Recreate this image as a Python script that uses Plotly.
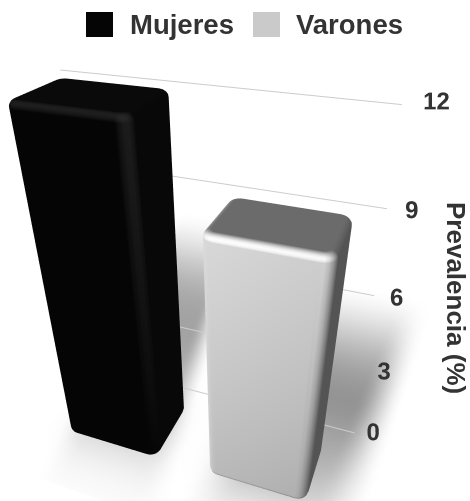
import numpy as np
import plotly.graph_objects as go

categories = ["Mujeres", "Varones"]
values = [12.1, 9.2]
tick_vals = [0, 3, 6, 9, 12]
label_dz = [-0.08, -0.15, -0.1, -0.05, 0.1]
axis_title = "Prevalencia (%)"

W, H = 470, 501
Z_SCALE = 0.0598  # scene height per % of prevalence
X_RANGE = [-0.9, 0.3]
Y_RANGE = [0.6, 2.0]
Z_RANGE = [-0.1, 13]
BAR_X = [(-0.652, -0.44), (-0.33, -0.128)]
BAR_Y = [(0.74, 0.895), (0.742, 0.89)]
BAR_TOP_SHIFT = [0.006, 0.012]
WALL_Y = 0.95
GRID_X = (-0.688, -0.072)
GRID_END = [-0.072, -0.16, -0.072, -0.072, -0.072]
EYE_WORLD = np.array([0, 0, 1.0])

STYLE = [
    dict(Lf=lambda t, u: 0.02, Lr=0.03, Ll=0.03, Lb=0.03, Ltop=0.04, hl=0.09, hlc=0.10, hlp=8, legend="#050505"),
    dict(Lf=lambda t, u: 0.68 + 0.12 * t + 0.05 * (1 - u), Lr=0.33, Ll=0.86, Lb=0.5, Ltop=0.42, hl=0.32, hlc=0.10, hlp=2, legend="#cacaca"),
]


def grey(L):
    c = int(round(float(np.clip(L, 0, 1)) * 255))
    return f"rgb({c},{c},{c})"


def bar_mesh(x_lim, y_lim, value, st, name, shift, r=0.022, rt=0.013):
    x0, x1 = x_lim
    y0, y1 = y_lim
    corners = [(x1 - r, y1 - r, 0), (x0 + r, y1 - r, 90), (x0 + r, y0 + r, 180), (x1 - r, y0 + r, 270)]
    ring = []
    for cx, cy, a0 in corners:
        for a in np.linspace(a0, a0 + 90, 6):
            ring.append((cx, cy, np.radians(a)))
    height = value * Z_SCALE
    profile = [(np.radians(p), rt + rt * np.sin(np.radians(p))) for p in (-90, -60, -30, 0)]
    profile += [(np.radians(p), height - rt + rt * np.sin(np.radians(p))) for p in (0, 15, 30, 45, 60, 75, 90)]
    xs, ys, zs, col = [], [], [], []
    for phi, z in profile:
        nh, nz = np.cos(phi), np.sin(phi)
        rad = r - rt * (1 - nh)
        t = z / height
        for cx, cy, th in ring:
            nx, ny = np.cos(th), np.sin(th)
            x, y = cx + rad * nx, cy + rad * ny
            u = (x - x0) / (x1 - x0)
            wf, wr, wl, wb = max(-ny, 0), max(nx, 0), max(-nx, 0), max(ny, 0)
            side = wf**2 * st["Lf"](t, u) + wr**2 * st["Lr"] + wl**2 * st["Ll"] + wb**2 * st["Lb"]
            side += st["hlc"] * 2 * wf * wr * t ** st["hlp"]
            L = side * nh**2 + st["Ltop"] * max(nz, 0) ** 2 + st["hl"] * 2 * nh * max(nz, 0) * wf
            xs.append(x + shift * u * t); ys.append(y); zs.append(z / Z_SCALE); col.append(grey(L))
    m = len(ring)
    i, j, k = [], [], []
    for a in range(len(profile) - 1):
        for b in range(m):
            p, q = a * m + b, a * m + (b + 1) % m
            i += [p, q]; j += [q, q + m]; k += [p + m, p + m]
    for level, zc, shade in ((len(profile) - 1, value, st["Ltop"]), (0, 0, st["Ltop"])):
        c = len(xs)
        xs.append((x0 + x1 + shift) / 2 if level else (x0 + x1) / 2); ys.append((y0 + y1) / 2); zs.append(zc); col.append(grey(shade))
        for b in range(m):
            i.append(c); j.append(level * m + b); k.append(level * m + (b + 1) % m)
    return go.Mesh3d(x=xs, y=ys, z=zs, i=i, j=j, k=k, vertexcolor=col, name=name, hoverinfo="skip", showlegend=False,
                     flatshading=False, lighting=dict(ambient=1, diffuse=0, specular=0, roughness=1, fresnel=0))


def smooth(v):
    v = np.clip(v, 0, 1)
    return v * v * (3 - 2 * v)


def soft(v, lo, hi, w):
    return smooth((v - lo + w) / (2 * w)) * smooth((hi - v + w) / (2 * w))


def floor_mesh():
    gx, gy = np.meshgrid(np.linspace(-0.9, 0.3, 120), np.linspace(0.62, 1.98, 120))
    d = np.zeros_like(gx)
    xc = -0.55 - 0.2 * (gy - 0.82)
    d += 0.36 * soft(gx - xc, -0.11, 0.11, 0.035) * soft(gy, 0.85, 1.5, 0.3)
    xc = -0.19 + 0.1 * (gy - 0.82)
    d += 0.42 * soft(gx - xc, -0.11, 0.13, 0.05) * soft(gy, 0.8, 1.28, 0.25)
    for (a, b), (c, e) in zip(BAR_X, BAR_Y):
        d += 0.06 * soft(gx, a, b, 0.07) * soft(gy, c, e, 0.07)
    L = 1 - np.clip(d, 0, 1)
    n = gx.shape[0]
    i, j, k = [], [], []
    for a in range(n - 1):
        for b in range(n - 1):
            p = a * n + b
            i += [p, p]; j += [p + 1, p + n + 1]; k += [p + n + 1, p + n]
    return go.Mesh3d(x=gx.ravel(), y=gy.ravel(), z=np.full(n * n, -0.03), i=i, j=j, k=k,
                     vertexcolor=[grey(v) for v in L.ravel()], hoverinfo="skip", showlegend=False,
                     lighting=dict(ambient=1, diffuse=0, specular=0, roughness=1, fresnel=0))


def toward_eye(x, y, z_val, k=0.85):
    """Same screen position, nearer the camera, so the floor cannot hide a label."""
    p = np.array([x, y, z_val * Z_SCALE])
    q = EYE_WORLD + k * (p - EYE_WORLD)
    return q[0], q[1], q[2] / Z_SCALE


fig = go.Figure()
fig.add_trace(floor_mesh())
for v, end in zip(tick_vals, GRID_END):
    fig.add_trace(go.Scatter3d(x=[GRID_X[0], end], y=[WALL_Y, WALL_Y], z=[v, v], mode="lines", showlegend=False,
                               line=dict(color="#cccccc", width=2), hoverinfo="skip"))
label_pts = [toward_eye(GRID_X[1] - 0.024 + 0.0018 * v, WALL_Y, v + dz) for v, dz in zip(tick_vals, label_dz)]
fig.add_trace(go.Scatter3d(x=[p[0] for p in label_pts], y=[p[1] for p in label_pts], z=[p[2] for p in label_pts],
                           mode="text", text=[str(v) for v in tick_vals], textposition="middle right",
                           textfont=dict(family="Liberation Sans", size=24, color="#333333", weight="bold"),
                           showlegend=False, hoverinfo="skip"))
for c, v, xl, yl, st, sh in zip(categories, values, BAR_X, BAR_Y, STYLE, BAR_TOP_SHIFT):
    fig.add_trace(bar_mesh(xl, yl, v, st, c, sh))

box_c = np.array([sum(X_RANGE) / 2, sum(Y_RANGE) / 2, sum(Z_RANGE) / 2 * Z_SCALE])
eye = EYE_WORLD - box_c
forward = np.array([-0.294, 0.808, -0.51])
center = eye + 1.05 * forward

shapes = []
annotations = []
legend_boxes = [(86, 113), (253, 280)]
legend_text = [128, 294]
for c, st, (a, b), tx in zip(categories, STYLE, legend_boxes, legend_text):
    shapes.append(dict(type="rect", xref="paper", yref="paper", x0=a / W, x1=b / W, y0=1 - 37 / H, y1=1 - 12 / H,
                       fillcolor=st["legend"], line=dict(width=0)))
    annotations.append(dict(text=f"<b>{c}</b>", xref="paper", yref="paper", x=tx / W, y=1 - 25 / H, xanchor="left",
                            yanchor="middle", showarrow=False, font=dict(family="Liberation Sans", size=27.5, color="#333333")))
annotations.append(dict(text=f"<b>{axis_title}</b>", xref="paper", yref="paper", x=456 / W, y=1 - 298 / H, textangle=90,
                        showarrow=False, xanchor="center", yanchor="middle",
                        font=dict(family="Liberation Sans", size=26, color="#333333")))

fig.update_layout(
    width=W, height=H, margin=dict(l=0, r=0, t=0, b=0), paper_bgcolor="white", showlegend=False,
    shapes=shapes, annotations=annotations,
    scene=dict(
        domain=dict(x=[0, 1], y=[0, 1]), bgcolor="white",
        xaxis=dict(visible=False, range=X_RANGE),
        yaxis=dict(visible=False, range=Y_RANGE),
        zaxis=dict(visible=False, range=Z_RANGE),
        aspectmode="manual",
        aspectratio=dict(x=X_RANGE[1] - X_RANGE[0], y=Y_RANGE[1] - Y_RANGE[0], z=(Z_RANGE[1] - Z_RANGE[0]) * Z_SCALE),
        camera=dict(eye=dict(x=eye[0], y=eye[1], z=eye[2]), center=dict(x=center[0], y=center[1], z=center[2]),
                    up=dict(x=0, y=0, z=1), projection=dict(type="perspective")),
    ),
)
fig.write_html("out.html", config=dict(displayModeBar=False),
               post_script="document.body.style.margin='0';document.body.style.overflow='hidden';"
                           "document.querySelector('.plotly-graph-div').style.filter='blur(0.7px)';")
